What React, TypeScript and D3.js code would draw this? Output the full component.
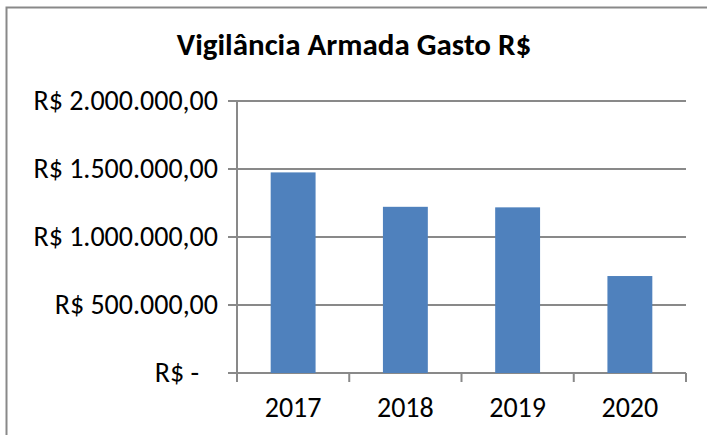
import React, { useRef, useEffect } from 'react';
import * as d3 from 'd3';

const years = ['2017', '2018', '2019', '2020'];
const spending = [1475000, 1222000, 1218000, 713000];
const yTicks = [0, 500000, 1000000, 1500000, 2000000];
const yTickLabels = ['R$ -   ', 'R$ 500.000,00', 'R$ 1.000.000,00', 'R$ 1.500.000,00', 'R$ 2.000.000,00'];
const title = 'Vigilância Armada Gasto R$';

const FONT = "Carlito, Calibri, 'Open Sans', sans-serif";

const App = () => {
  const svgRef = useRef<SVGSVGElement>(null);

  useEffect(() => {
    const svg = d3.select(svgRef.current);
    svg.selectAll('*').remove();

    const width = 707;
    const height = 435;
    const plot = { left: 237, right: 686, top: 101, bottom: 373 };
    const grey = '#898989';

    // chart frame (runs off the right and bottom edges in the original)
    svg.append('rect')
      .attr('x', 6.5)
      .attr('y', 7.5)
      .attr('width', width + 20)
      .attr('height', height + 20)
      .attr('fill', 'white')
      .attr('stroke', grey)
      .attr('stroke-width', 2);

    const x = d3.scaleBand()
      .domain(years)
      .range([plot.left, plot.right])
      .padding(0);

    const y = d3.scaleLinear()
      .domain([0, 2000000])
      .range([plot.bottom, plot.top]);

    // gridlines + left ticks
    svg.append('g')
      .selectAll('line')
      .data(yTicks)
      .enter()
      .append('line')
      .attr('x1', plot.left - 9)
      .attr('x2', plot.right)
      .attr('y1', (d) => y(d))
      .attr('y2', (d) => y(d))
      .attr('stroke', grey)
      .attr('stroke-width', 2);

    // y axis line
    svg.append('line')
      .attr('x1', plot.left)
      .attr('x2', plot.left)
      .attr('y1', plot.top)
      .attr('y2', plot.bottom)
      .attr('stroke', grey)
      .attr('stroke-width', 2);

    // category tick marks at band edges
    const edges = years.map((d) => x(d) as number).concat([plot.right]);
    svg.append('g')
      .selectAll('line')
      .data(edges)
      .enter()
      .append('line')
      .attr('x1', (d) => d)
      .attr('x2', (d) => d)
      .attr('y1', plot.bottom)
      .attr('y2', plot.bottom + 9)
      .attr('stroke', grey)
      .attr('stroke-width', 2);

    // bars (gap width 150%)
    const barW = x.bandwidth() * 0.4;
    svg.append('g')
      .selectAll('rect')
      .data(spending)
      .enter()
      .append('rect')
      .attr('x', (d, i) => (x(years[i]) as number) + (x.bandwidth() - barW) / 2)
      .attr('y', (d) => y(d))
      .attr('width', barW)
      .attr('height', (d) => plot.bottom - y(d))
      .attr('fill', '#4F81BD');

    // y labels
    svg.append('g')
      .selectAll('text')
      .data(yTicks)
      .enter()
      .append('text')
      .attr('x', 218)
      .attr('y', (d) => y(d) + 9)
      .attr('text-anchor', 'end')
      .style('white-space', 'pre')
      .style('font-family', FONT)
      .style('font-size', '28px')
      .attr('fill', '#000')
      .text((d, i) => yTickLabels[i]);

    // x labels
    svg.append('g')
      .selectAll('text')
      .data(years)
      .enter()
      .append('text')
      .attr('x', (d) => (x(d) as number) + x.bandwidth() / 2)
      .attr('y', 417)
      .attr('text-anchor', 'middle')
      .style('font-family', FONT)
      .style('font-size', '28px')
      .attr('fill', '#000')
      .text((d) => d);

    // title
    svg.append('text')
      .attr('x', 354)
      .attr('y', 55)
      .attr('text-anchor', 'middle')
      .style('font-family', FONT)
      .style('font-size', '31px')
      .style('font-weight', 'bold')
      .attr('fill', '#000')
      .text(title);
  }, []);

  return (
    <svg
      ref={svgRef}
      width={707}
      height={435}
      style={{ position: 'absolute', left: 0, top: 0, background: 'white' }}
    ></svg>
  );
};

export default App;
